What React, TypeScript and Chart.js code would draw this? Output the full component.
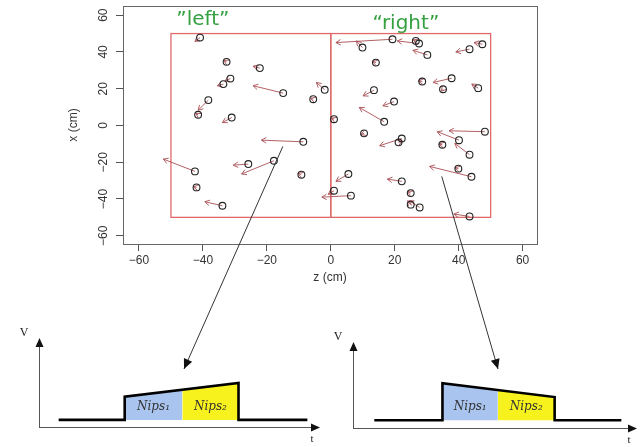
import React, { useEffect, useRef } from 'react';
import { Chart, registerables } from 'chart.js';
Chart.register(...registerables);

// ---- scatter of positions (z, x) with displacement arrows ----
const pointZ = [-40.9, -32.6, -22.2, -31.4, -33.6, -14.9, -1.9, -5.5, -38.3, -41.5, -31.0, -8.6, 1.0, -42.5, -25.8, -17.8, -9.2, -42.0, -33.9, 1.0,
  9.9, 19.3, 27.6, 26.6, 30.2, 43.4, 47.4, 14.1, 28.6, 37.8, 35.1, 46.1, 13.5, 19.8, 16.7, 10.4, 22.2, 21.2, 48.2, 40.1, 34.9, 43.4, 39.9, 44.0, 5.5, 22.2, 6.3, 25.0, 25.0, 27.8, 43.4];
const pointX = [47.8, 34.6, 31.2, 25.5, 22.5, 17.6, 19.4, 14.3, 13.8, 5.8, 4.3, -8.9, 3.4, -25.0, -21.0, -19.2, -26.8, -33.7, -43.7, -35.5,
  42.4, 46.9, 44.6, 46.0, 38.4, 41.5, 44.2, 34.2, 23.9, 25.7, 19.7, 20.3, 19.2, 13.0, 2.0, -4.3, -7.1, -9.2, -3.4, -8.0, -10.5, -15.9, -23.5, -27.9, -26.4, -30.4, -38.2, -36.8, -43.1, -44.6, -49.5];
const headZ = [-42.5, -33.5, -24.3, -33.1, -35.5, -24.3, -4.5, -6.3, -41.5, -42.2, -33.9, -21.7, 0.2, -52.4, -30.5, -27.9, -10.3, -43.0, -39.4, -0.8,
  8.0, 1.6, 20.8, 25.8, 25.7, 39.1, 44.8, 13.0, 27.4, 32.0, 34.6, 44.1, 10.1, 16.3, 8.9, 9.4, 15.3, 22.4, 37.0, 33.3, 33.8, 38.8, 38.8, 30.9, 1.6, 17.7, -2.8, 24.0, 24.0, 24.5, 38.5];
const headX = [45.7, 35.4, 32.2, 24.3, 21.6, 21.6, 23.4, 14.8, 8.3, 6.6, 1.6, -8.0, 4.0, -18.3, -21.6, -26.4, -26.0, -33.4, -41.5, -37.5,
  46.0, 45.1, 46.0, 46.6, 40.9, 40.0, 45.1, 34.8, 24.2, 23.4, 18.6, 22.5, 16.1, 10.7, 9.8, -5.0, -11.0, -8.4, -2.9, -3.4, -10.2, -9.8, -23.0, -22.3, -30.4, -29.2, -39.0, -35.8, -41.0, -40.9, -48.2];

const axisTicks = [-60, -40, -20, 0, 20, 40, 60];
const zoneZ = [-50, 0, 50];
const zoneXRange = [-50, 50];
const zoneLabels = ['\u201Dleft\u201D', '\u201Cright\u201D'];
const zoneLabelZ = [-40, 23.5];
const zoneLabelX = [54.5, 52.5];
// connector start points (z, x) in the scatter
const linkZ = [-15, 34.7];
const linkX = [-11.4, -27.7];

// ---- pulse diagrams ----
const leftT = [0.7, 3.05, 3.05, 7.1, 7.1, 9.55];
const leftV = [0.8, 0.8, 3.4, 4.95, 0.8, 0.8];
const leftSplit = [5.1, 4.15];
const rightT = [0.75, 3.15, 3.15, 7.1, 7.1, 9.45];
const rightV = [0.9, 0.9, 5.2, 3.6, 0.9, 0.9];
const rightSplit = [5.1, 4.4];
const nipsLabels = ['Nips\u2081', 'Nips\u2082'];

const fmt = (v: number) => (v < 0 ? '\u2212' + Math.abs(v) : String(v));
const TICK_FONT = '12px "Liberation Sans", Arial, sans-serif';

function arrowLine(ctx: CanvasRenderingContext2D, x1: number, y1: number, x2: number, y2: number, head: number, ang: number) {
  const a = Math.atan2(y2 - y1, x2 - x1);
  ctx.beginPath();
  ctx.moveTo(x1, y1);
  ctx.lineTo(x2, y2);
  ctx.moveTo(x2 - head * Math.cos(a - ang), y2 - head * Math.sin(a - ang));
  ctx.lineTo(x2, y2);
  ctx.lineTo(x2 - head * Math.cos(a + ang), y2 - head * Math.sin(a + ang));
  ctx.stroke();
}

function filledHead(ctx: CanvasRenderingContext2D, x1: number, y1: number, x2: number, y2: number, len: number, half: number) {
  const a = Math.atan2(y2 - y1, x2 - x1);
  const bx = x2 - len * Math.cos(a);
  const by = y2 - len * Math.sin(a);
  ctx.beginPath();
  ctx.moveTo(x2, y2);
  ctx.lineTo(bx + half * Math.sin(a), by - half * Math.cos(a));
  ctx.lineTo(bx - half * Math.sin(a), by + half * Math.cos(a));
  ctx.closePath();
  ctx.fill();
}

const mainOverlay = {
  id: 'mainOverlay',
  beforeDatasetsDraw(chart: any) {
    const { ctx, scales: { x, y } } = chart;
    ctx.save();
    // zones
    ctx.strokeStyle = '#e06a6a';
    ctx.lineWidth = 1.3;
    for (let i = 0; i < 2; i++) {
      const l = x.getPixelForValue(zoneZ[i]);
      const r = x.getPixelForValue(zoneZ[i + 1]);
      const t = y.getPixelForValue(zoneXRange[1]);
      const b = y.getPixelForValue(zoneXRange[0]);
      ctx.strokeRect(l, t, r - l, b - t);
    }
    // displacement arrows
    ctx.strokeStyle = 'rgba(170,80,85,0.9)';
    ctx.lineWidth = 1;
    for (let i = 0; i < pointZ.length; i++) {
      arrowLine(ctx, x.getPixelForValue(pointZ[i]), y.getPixelForValue(pointX[i]),
        x.getPixelForValue(headZ[i]), y.getPixelForValue(headX[i]), 5.5, Math.PI / 6);
    }
    // zone labels
    ctx.fillStyle = '#34a040';
    ctx.font = '20px "DejaVu Sans", sans-serif';
    ctx.textAlign = 'center';
    ctx.textBaseline = 'alphabetic';
    for (let i = 0; i < zoneLabels.length; i++) {
      ctx.fillText(zoneLabels[i], x.getPixelForValue(zoneLabelZ[i]), y.getPixelForValue(zoneLabelX[i]));
    }
    ctx.restore();
  },
  afterDraw(chart: any) {
    const { ctx, chartArea: a, scales: { x, y } } = chart;
    ctx.save();
    ctx.strokeStyle = '#666';
    ctx.lineWidth = 1;
    ctx.strokeRect(Math.round(a.left) + 0.5, Math.round(a.top) + 0.5, Math.round(a.right - a.left), Math.round(a.bottom - a.top));
    // rotated y tick labels (R style, reading upward)
    ctx.fillStyle = '#333';
    ctx.font = TICK_FONT;
    ctx.textAlign = 'center';
    ctx.textBaseline = 'middle';
    for (const v of axisTicks) {
      ctx.save();
      ctx.translate(a.left - 19, y.getPixelForValue(v));
      ctx.rotate(-Math.PI / 2);
      ctx.fillText(fmt(v), 0, 0);
      ctx.restore();
    }
    // connectors to the pulse diagrams
    const targets = [[184, 369], [498, 369]];
    ctx.strokeStyle = '#333';
    ctx.fillStyle = '#111';
    for (let i = 0; i < 2; i++) {
      const sx = x.getPixelForValue(linkZ[i]);
      const sy = y.getPixelForValue(linkX[i]);
      const [tx, ty] = targets[i];
      ctx.beginPath();
      ctx.moveTo(sx, sy);
      ctx.lineTo(tx, ty);
      ctx.stroke();
      filledHead(ctx, sx, sy, tx, ty, 10, 4.5);
    }
    ctx.restore();
  },
};

const diagramOverlay = {
  id: 'diagramOverlay',
  afterDraw(chart: any) {
    const { ctx, chartArea: a, scales: { x, y } } = chart;
    const opts = chart.options.plugins.diagramOverlay;
    ctx.save();
    ctx.strokeStyle = '#555';
    ctx.fillStyle = '#111';
    ctx.lineWidth = 1;
    ctx.beginPath();
    ctx.moveTo(a.left + 0.5, a.bottom + 1);
    ctx.lineTo(a.left + 0.5, a.top + 6);
    ctx.moveTo(a.left, a.bottom + 0.5);
    ctx.lineTo(a.right - 6, a.bottom + 0.5);
    ctx.stroke();
    filledHead(ctx, a.left + 0.5, a.bottom, a.left + 0.5, a.top, 9, 4);
    filledHead(ctx, a.left, a.bottom + 0.5, a.right, a.bottom + 0.5, 9, 4);
    ctx.fillStyle = '#222';
    ctx.font = '12px "Liberation Serif", serif';
    ctx.textAlign = 'center';
    ctx.textBaseline = 'middle';
    ctx.fillText('V', a.left - 15, a.top - 5);
    ctx.font = '11px "Liberation Serif", serif';
    ctx.fillText('t', a.right - 8, a.bottom + 12);
    // region labels
    ctx.font = 'italic 12px "DejaVu Serif", "Liberation Serif", serif';
    ctx.fillStyle = '#333';
    const T: number[] = opts.T;
    const split: number[] = opts.split;
    const base = opts.V[0];
    const ly = y.getPixelForValue(base) - 13;
    ctx.fillText(nipsLabels[0], x.getPixelForValue((T[2] + split[0]) / 2), ly);
    ctx.fillText(nipsLabels[1], x.getPixelForValue((split[0] + T[3]) / 2), ly);
    ctx.restore();
  },
};

function makeDiagram(canvas: HTMLCanvasElement, T: number[], V: number[], split: number[], padding: any) {
  const pts = T.map((t, i) => ({ x: t, y: V[i] }));
  return new Chart(canvas, {
    type: 'line',
    data: {
      datasets: [
        { data: pts, borderColor: '#000', borderWidth: 2.6, borderJoinStyle: 'miter', pointRadius: 0, fill: false, tension: 0 },
        { data: [{ x: T[2], y: V[2] }, { x: split[0], y: split[1] }], borderWidth: 0, pointRadius: 0, fill: { value: V[0] }, backgroundColor: '#a9c4ee' },
        { data: [{ x: split[0], y: split[1] }, { x: T[3], y: V[3] }], borderWidth: 0, pointRadius: 0, fill: { value: V[0] }, backgroundColor: '#f7f21e' },
      ],
    },
    options: {
      animation: false,
      responsive: false,
      layout: { padding },
      plugins: { legend: { display: false }, tooltip: { enabled: false }, diagramOverlay: { T, V, split } } as any,
      scales: {
        x: { type: 'linear', min: 0, max: 10, display: false },
        y: { type: 'linear', min: 0, max: 10, display: false },
      },
    },
    plugins: [diagramOverlay],
  } as any);
}

export default function App() {
  const mainRef = useRef<HTMLCanvasElement>(null);
  const leftRef = useRef<HTMLCanvasElement>(null);
  const rightRef = useRef<HTMLCanvasElement>(null);

  useEffect(() => {
    const tickFont = { family: '"Liberation Sans", Arial, sans-serif', size: 12 };
    const main = new Chart(mainRef.current!, {
      type: 'scatter',
      data: {
        datasets: [{
          data: pointZ.map((z, i) => ({ x: z, y: pointX[i] })),
          pointRadius: 3.4,
          pointBorderColor: '#222',
          pointBackgroundColor: 'rgba(0,0,0,0)',
          pointBorderWidth: 1.1,
        }],
      },
      options: {
        animation: false,
        responsive: false,
        layout: { padding: { left: 66, top: 6, right: 107, bottom: 161 } },
        plugins: { legend: { display: false }, tooltip: { enabled: false } },
        scales: {
          x: {
            type: 'linear', min: -65, max: 64.5,
            afterBuildTicks: (s: any) => { s.ticks = axisTicks.map((v) => ({ value: v })); },
            afterFit: (s: any) => { s.height = 42; },
            grid: { drawOnChartArea: false, drawTicks: true, tickLength: 7, color: '#555' },
            border: { display: false },
            ticks: { padding: 2, color: '#333', font: tickFont, autoSkip: false, minRotation: 0, maxRotation: 0, callback: (v: any) => fmt(Number(v)) },
            title: { display: true, text: 'z (cm)', color: '#333', font: tickFont, padding: { top: 0, bottom: 1 } },
          },
          y: {
            type: 'linear', min: -64.5, max: 65,
            afterBuildTicks: (s: any) => { s.ticks = axisTicks.map((v) => ({ value: v })); },
            afterFit: (s: any) => { s.width = 57; },
            grid: { drawOnChartArea: false, drawTicks: true, tickLength: 7, color: '#555' },
            border: { display: false },
            ticks: { display: false },
            title: { display: true, text: 'x (cm)', color: '#333', font: tickFont, padding: 0 },
          },
        },
      },
      plugins: [mainOverlay],
    } as any);

    const left = makeDiagram(leftRef.current!, leftT, leftV, leftSplit, { left: 39, top: 18, right: 2, bottom: 20 });
    const right = makeDiagram(rightRef.current!, rightT, rightV, rightSplit, { left: 31, top: 22, right: 7, bottom: 19 });

    return () => { main.destroy(); left.destroy(); right.destroy(); };
  }, []);

  return (
    <div style={{ position: 'fixed', left: 0, top: 0, width: 644, height: 447, background: '#fff' }}>
      <canvas ref={mainRef} width={644} height={447} style={{ position: 'absolute', left: 0, top: 0 }} />
      <canvas ref={leftRef} width={322} height={127} style={{ position: 'absolute', left: 0, top: 320 }} />
      <canvas ref={rightRef} width={322} height={127} style={{ position: 'absolute', left: 322, top: 320 }} />
    </div>
  );
}
